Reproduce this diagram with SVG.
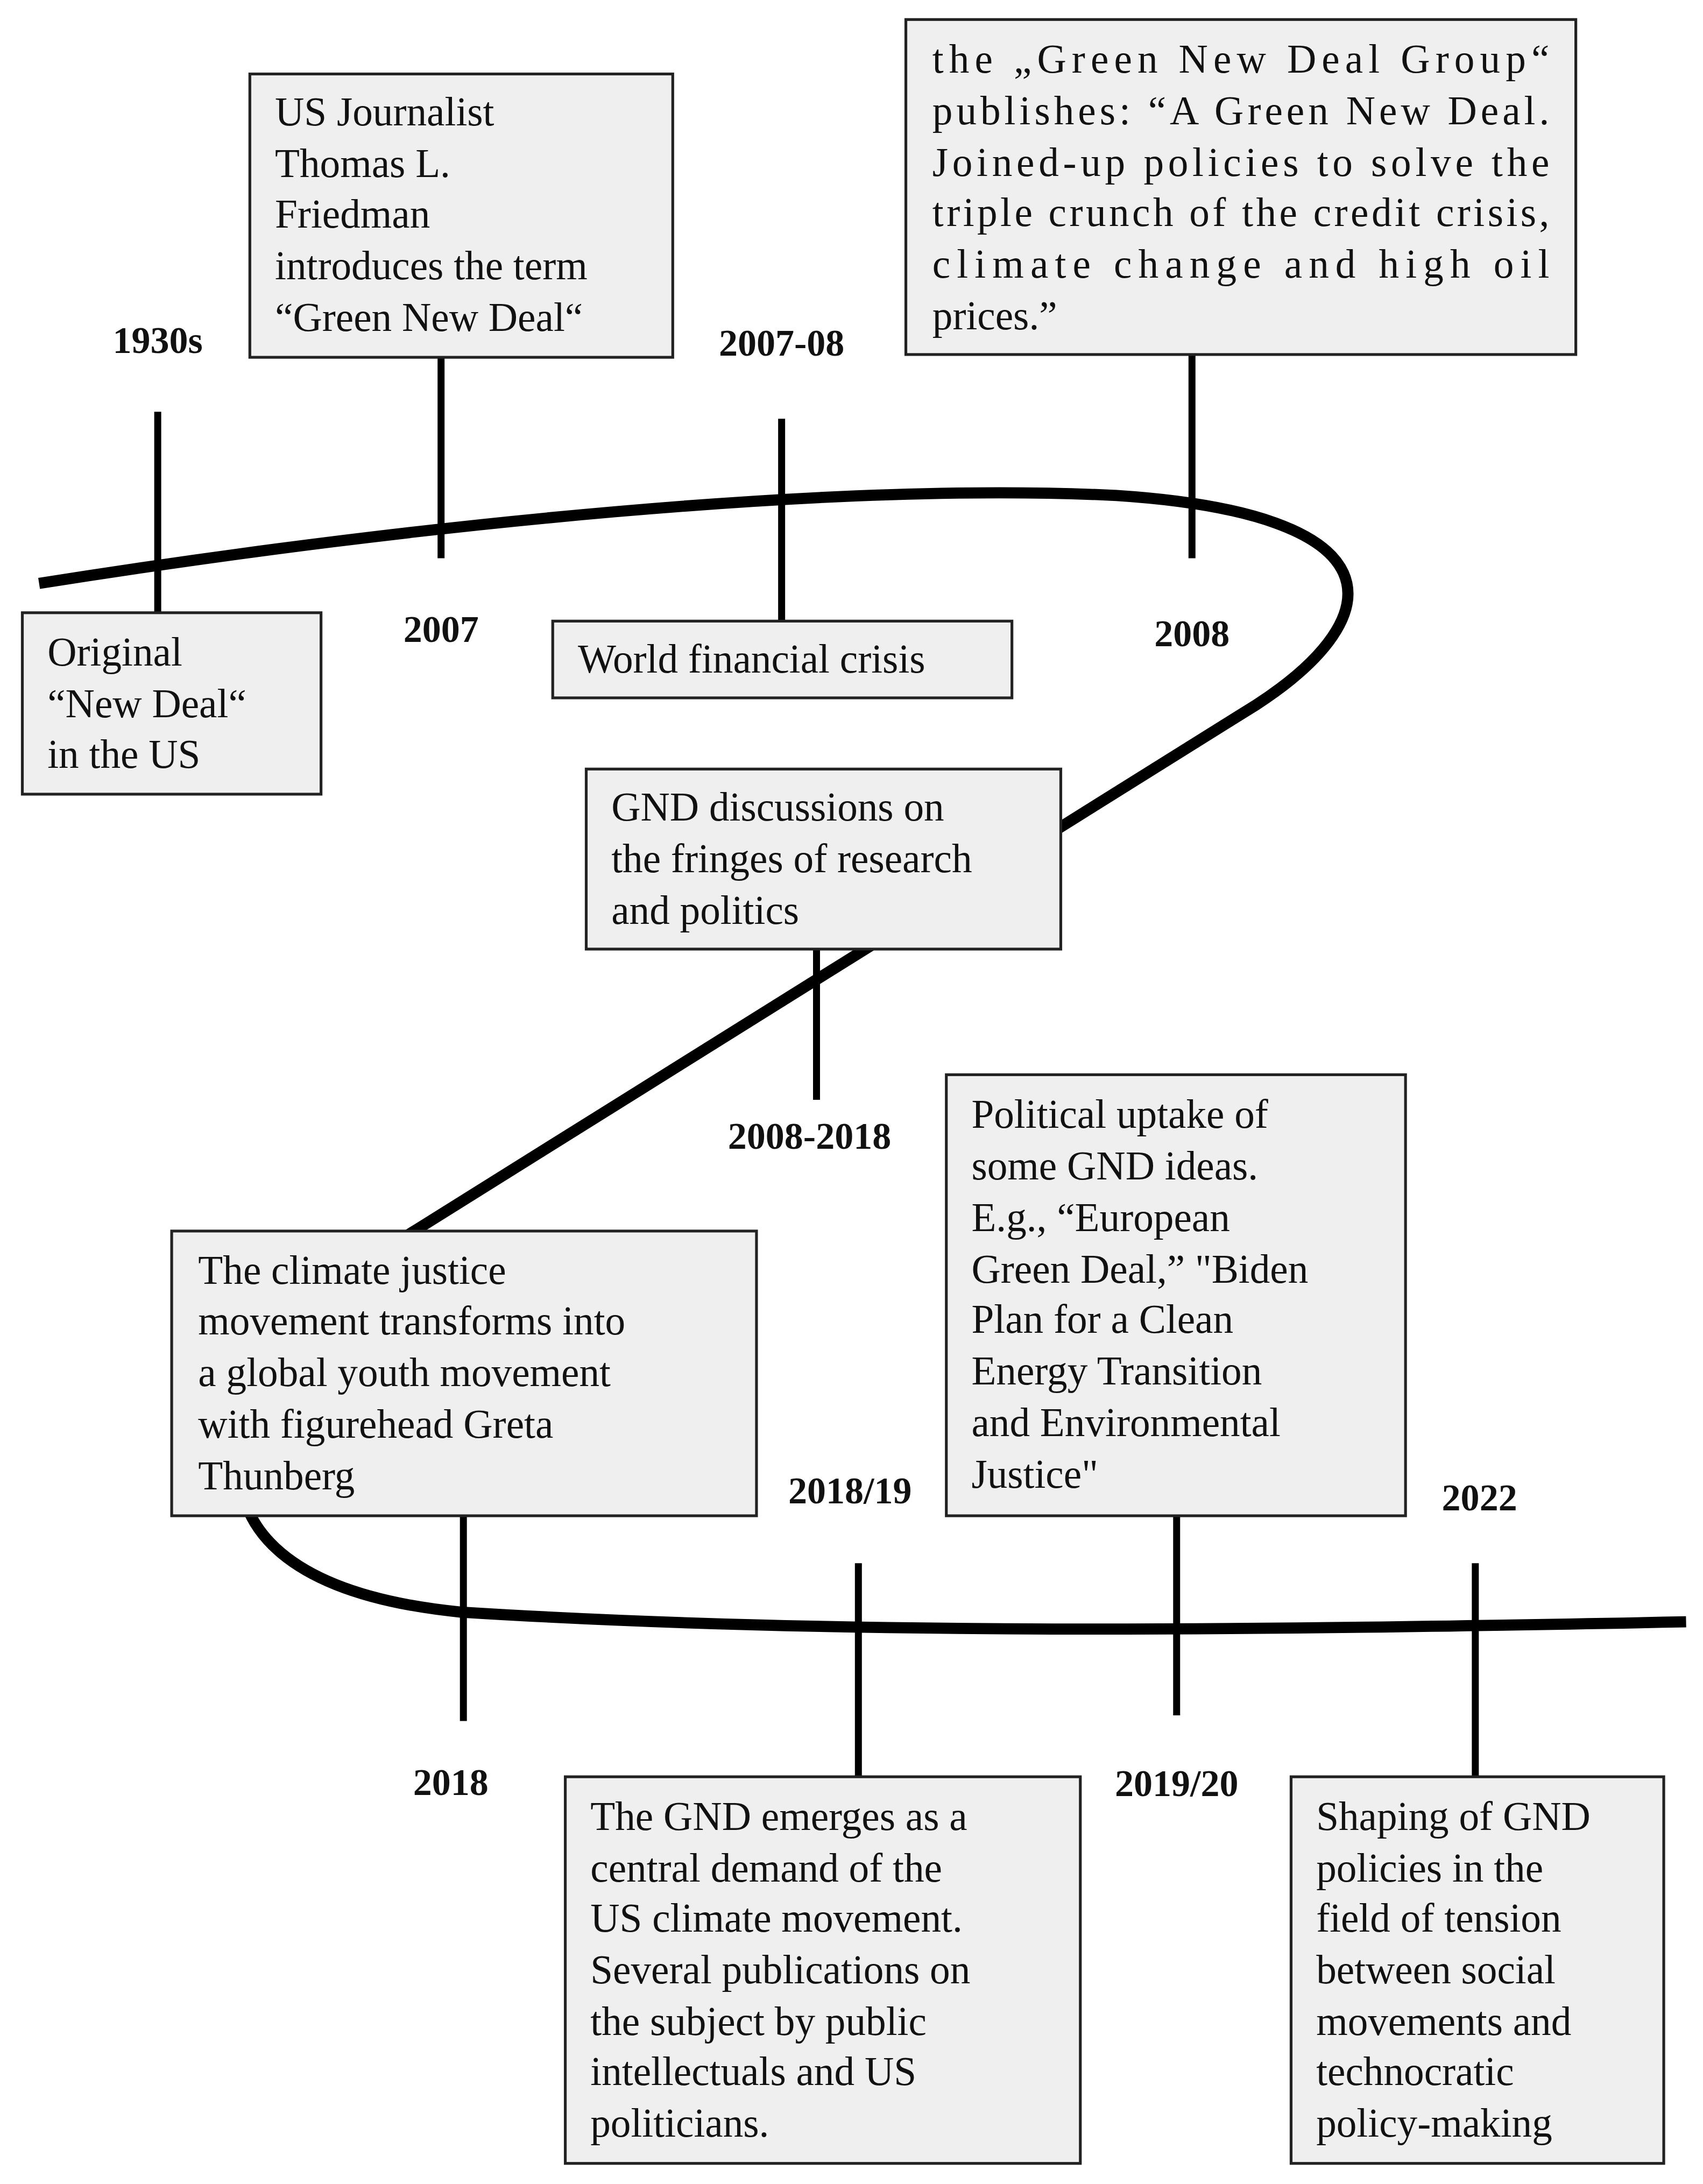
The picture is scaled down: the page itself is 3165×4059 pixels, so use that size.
<svg xmlns="http://www.w3.org/2000/svg" width="3165" height="4059" viewBox="0 0 3165 4059">
<style>
.b{fill:#efefef;stroke:#222;stroke-width:2}
.t{font-family:"Liberation Serif","DejaVu Serif",serif;font-size:29px;fill:#111}
.y{font-family:"Liberation Serif","DejaVu Serif",serif;font-size:27px;font-weight:bold;fill:#111;text-anchor:middle}
.k{stroke:#000;stroke-width:5}
</style>
<rect width="3165" height="4059" fill="#fff"/>
<g transform="scale(2.594)">
<g id="connectors">
<path d="M28,418 C300,375 600,345 800,355 C1000,368 1000,440 900,505 L300,880 C170,960 80,1130 330,1155 C600,1172 900,1168 1208,1162" fill="none" stroke="#000" stroke-width="8"/>
<line class="k" x1="113" y1="295" x2="113" y2="439"/>
<line class="k" x1="316" y1="256" x2="316" y2="400"/>
<line class="k" x1="560" y1="300" x2="560" y2="445"/>
<line class="k" x1="854" y1="254" x2="854" y2="400"/>
<line class="k" x1="585" y1="680" x2="585" y2="788"/>
<line class="k" x1="332" y1="1086" x2="332" y2="1233"/>
<line class="k" x1="615" y1="1120" x2="615" y2="1273"/>
<line class="k" x1="843" y1="1086" x2="843" y2="1229"/>
<line class="k" x1="1057" y1="1120" x2="1057" y2="1273"/>
</g>
<g id="n1"><rect class="b" x="16" y="439" width="214" height="130"/><text class="t" x="34"><tspan y="477">Original</tspan><tspan x="34" y="514">“New Deal“</tspan><tspan x="34" y="550">in the US</tspan></text><text class="y" x="113" y="253">1930s</text></g>
<g id="n2"><rect class="b" x="179" y="53" width="303" height="203"/><text class="t" x="197"><tspan y="90">US Journalist</tspan><tspan x="197" y="127">Thomas L.</tspan><tspan x="197" y="163">Friedman</tspan><tspan x="197" y="200">introduces the term</tspan><tspan x="197" y="237">“Green New Deal“</tspan></text><text class="y" x="316" y="460">2007</text></g>
<g id="n3"><rect class="b" x="396" y="445" width="329" height="55"/><text class="t" x="414" y="482">World financial crisis</text><text class="y" x="560" y="255">2007-08</text></g>
<g id="n4"><rect class="b" x="649" y="14" width="480" height="240"/>
<text class="t" x="668" y="52" textLength="442" lengthAdjust="spacing">the „Green New Deal Group“</text>
<text class="t" x="668" y="89" textLength="442" lengthAdjust="spacing">publishes: “A Green New Deal.</text>
<text class="t" x="668" y="126" textLength="442" lengthAdjust="spacing">Joined-up policies to solve the</text>
<text class="t" x="668" y="162" textLength="442" lengthAdjust="spacing">triple crunch of the credit crisis,</text>
<text class="t" x="668" y="199" textLength="442" lengthAdjust="spacing">climate change and high oil</text>
<text class="t" x="668" y="236">prices.”</text>
<text class="y" x="854" y="463">2008</text></g>
<g id="n5"><rect class="b" x="420" y="551" width="340" height="129"/><text class="t" x="438"><tspan y="588">GND discussions on</tspan><tspan x="438" y="625">the fringes of research</tspan><tspan x="438" y="662">and politics</tspan></text><text class="y" x="580" y="823">2008-2018</text></g>
<g id="n6"><rect class="b" x="678" y="770" width="329" height="316"/><text class="t" x="696"><tspan y="808">Political uptake of</tspan><tspan x="696" y="845">some GND ideas.</tspan><tspan x="696" y="882">E.g., “European</tspan><tspan x="696" y="919">Green Deal,” "Biden</tspan><tspan x="696" y="955">Plan for a Clean</tspan><tspan x="696" y="992">Energy Transition</tspan><tspan x="696" y="1029">and Environmental</tspan><tspan x="696" y="1066">Justice"</tspan></text><text class="y" x="843" y="1287">2019/20</text></g>
<g id="n7"><rect class="b" x="123" y="882" width="419" height="204"/><text class="t" x="142"><tspan y="920">The climate justice</tspan><tspan x="142" y="956">movement transforms into</tspan><tspan x="142" y="993">a global youth movement</tspan><tspan x="142" y="1030">with figurehead Greta</tspan><tspan x="142" y="1067">Thunberg</tspan></text><text class="y" x="323" y="1286">2018</text></g>
<g id="n8"><rect class="b" x="405" y="1273" width="369" height="277"/><text class="t" x="423"><tspan y="1311">The GND emerges as a</tspan><tspan x="423" y="1348">central demand of the</tspan><tspan x="423" y="1384">US climate movement.</tspan><tspan x="423" y="1421">Several publications on</tspan><tspan x="423" y="1458">the subject by public</tspan><tspan x="423" y="1494">intellectuals and US</tspan><tspan x="423" y="1531">politicians.</tspan></text><text class="y" x="609" y="1077">2018/19</text></g>
<g id="n9"><rect class="b" x="925" y="1273" width="267" height="277"/><text class="t" x="943"><tspan y="1311">Shaping of GND</tspan><tspan x="943" y="1348">policies in the</tspan><tspan x="943" y="1384">field of tension</tspan><tspan x="943" y="1421">between social</tspan><tspan x="943" y="1458">movements and</tspan><tspan x="943" y="1494">technocratic</tspan><tspan x="943" y="1531">policy-making</tspan></text><text class="y" x="1060" y="1082">2022</text></g>
</g>
</svg>
